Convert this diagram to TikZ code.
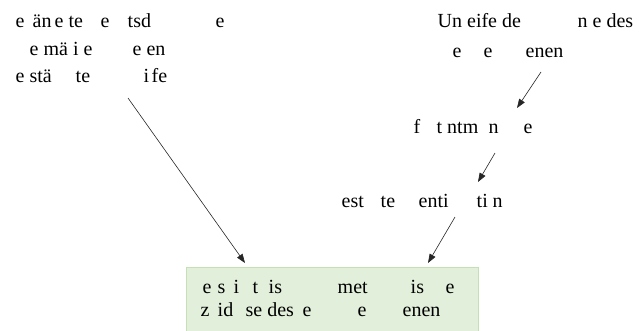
\documentclass[tikz,border=0pt]{standalone}
\usepackage{fontspec}
\setmainfont{Liberation Serif}
\usetikzlibrary{arrows.meta}
% put a piece of text at a given offset from the start of its line
\newcommand\placeat[2]{\rlap{\hspace*{#1pt}#2}}
\definecolor{boxfill}{HTML}{E2EFDA}
\definecolor{boxline}{HTML}{C5E0B4}
\tikzset{
  txt/.style={anchor=base west, inner sep=0pt, font=\fontsize{20}{24}\selectfont},
  link/.style={draw=black!85, line width=0.6pt, -{Triangle[length=9pt,width=6.5pt]}},
  goalbox/.style={draw=boxline, fill=boxfill, line width=1pt, anchor=north west,
    minimum width=292pt, minimum height=70pt, inner sep=0pt},
}
\begin{document}
\begin{tikzpicture}[x=1pt,y=-1pt]
\useasboundingbox (0,0) rectangle (640,330);

% target box
\node[goalbox] (goal) at (186,267) {};
\node[txt] (g1) at (202,293) {\placeat{0}{e}\placeat{15}{s}\placeat{31}{i}\placeat{50}{t}\placeat{66}{is}\placeat{135}{met}\placeat{208}{is}\placeat{243}{e}};
\node[txt] (g2) at (200,316) {\placeat{0}{z}\placeat{17}{id}\placeat{45}{se des}\placeat{102}{e}\placeat{157}{e}\placeat{202}{enen}};

% upper left label
\node[txt] (l1) at (15,27) {\placeat{0}{e}\placeat{17}{än}\placeat{39}{e te}\placeat{85}{e}\placeat{112}{tsd}\placeat{200}{e}};
\node[txt] (l2) at (29,55) {\placeat{0}{e mä i e}\placeat{103}{e en}};
\node[txt] (l3) at (15,82) {\placeat{0}{e stä}\placeat{60}{te}\placeat{128}{i}\placeat{136}{fe}};

% upper right label
\node[txt] (r1) at (437,27) {\placeat{0}{Un eife de}\placeat{140}{n e des}};
\node[txt] (r2) at (452,57) {\placeat{0}{e}\placeat{31}{e}\placeat{73}{enen}};

% middle labels
\node[txt] (m1) at (413,133) {\placeat{0}{f}\placeat{23}{t ntm}\placeat{75}{n}\placeat{110}{e}};
\node[txt] (m2) at (341,207) {\placeat{0}{est}\placeat{39}{te}\placeat{77}{enti}\placeat{135}{ti}\placeat{151}{n}};

% connector ends
\coordinate (aS) at (128,98);
\coordinate (bS) at (541,72);
\coordinate (bE) at (517,108);
\coordinate (cS) at (495,153);
\coordinate (cE) at (478,182);
\coordinate (dS) at (455,217);

\draw[link] (aS) -- ([shift={(59,-4)}]goal.north west);
\draw[link] (bS) -- (bE);
\draw[link] (cS) -- (cE);
\draw[link] (dS) -- ([shift={(242,-4)}]goal.north west);
\end{tikzpicture}
\end{document}
